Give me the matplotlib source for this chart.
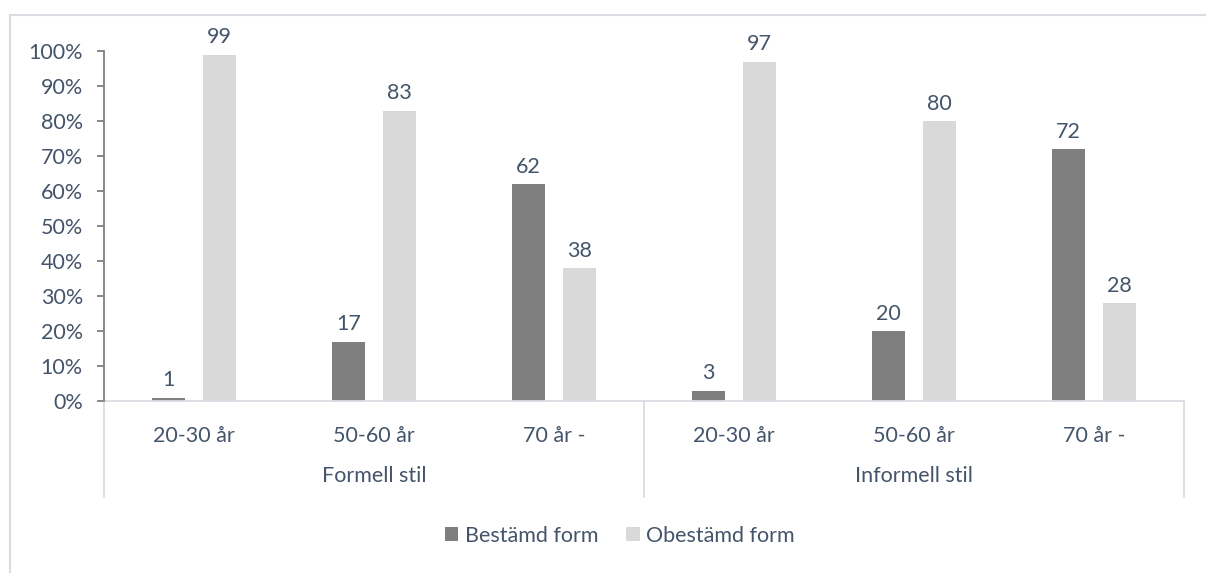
import matplotlib
matplotlib.use("Agg")
import matplotlib.pyplot as plt
from matplotlib.patches import Rectangle
from matplotlib.lines import Line2D
import matplotlib.transforms as mtransforms
import numpy as np

plt.rcParams['font.family'] = ['Lato', 'DejaVu Sans']

# Data
groups = ["Formell stil", "Informell stil"]
age_labels = ["20-30 år", "50-60 år", "70 år -"]
series_names = ["Bestämd form", "Obestämd form"]
bestamd = [1, 17, 62, 3, 20, 72]
obestamd = [99, 83, 38, 97, 80, 28]
y_ticks = [0, 10, 20, 30, 40, 50, 60, 70, 80, 90, 100]

dark = "#7f7f7f"
light = "#d9d9d9"
text_col = "#44546a"
grid_col = "#d9dde3"

W, H = 1206, 573
fig = plt.figure(figsize=(W / 100, H / 100), dpi=100)

left, right = 104 / W, 1184 / W
bottom = 1 - 401.3 / H
top = 1 - 51.3 / H
ax = fig.add_axes([left, bottom, right - left, top - bottom])

n = len(bestamd)
x = np.arange(n)
bw = 0.183
off = 0.142
ax.bar(x - off, bestamd, width=bw, color=dark, label=series_names[0], zorder=2)
ax.bar(x + off, obestamd, width=bw, color=light, label=series_names[1], zorder=2)

fs = 15.5
for xi, v in zip(x - off, bestamd):
    ax.annotate(f"{v}", (xi, v), xytext=(0, 5.5), textcoords="offset points",
                ha="center", va="bottom", color=text_col, fontsize=fs)
for xi, v in zip(x + off, obestamd):
    ax.annotate(f"{v}", (xi, v), xytext=(0, 5.5), textcoords="offset points",
                ha="center", va="bottom", color=text_col, fontsize=fs)

ax.set_xlim(-0.5, n - 0.5)
ax.set_ylim(0, 100)
ax.set_yticks(y_ticks)
ax.set_yticklabels([f"{t}%" for t in y_ticks])
ax.tick_params(axis="y", colors=dark, labelcolor=text_col, labelsize=fs,
               length=4.7, width=1.3, pad=10.5)
ax.set_xticks([])

for s in ["top", "right"]:
    ax.spines[s].set_visible(False)
ax.spines["left"].set_color(dark)
ax.spines["left"].set_linewidth(1.3)
ax.spines["bottom"].set_color(grid_col)
ax.spines["bottom"].set_linewidth(1.3)
ax.spines["left"].set_zorder(3)

# Category and group labels beneath the axis
trans = mtransforms.blended_transform_factory(ax.transData, ax.transAxes)
ax_h = 401.3 - 51.3
for i in range(n):
    ax.text(x[i], -(436 - 401.3) / ax_h, age_labels[i % 3], transform=trans,
            ha="center", va="center", color=text_col, fontsize=fs)
for g, name in enumerate(groups):
    ax.text(3 * g + 1, -(476 - 401.3) / ax_h, name, transform=trans,
            ha="center", va="center", color=text_col, fontsize=fs)

sep_bottom = -(496.7 - 401.3) / ax_h
for xs in [-0.5, 2.5, 5.5]:
    ax.add_line(Line2D([xs, xs], [0, sep_bottom], transform=trans,
                       color=grid_col, lw=1.3, clip_on=False, zorder=1))

# Outer chart frame
fig.add_artist(Rectangle((10 / W, -0.1), 1.2, 1 - 15 / H + 0.1,
                         transform=fig.transFigure, fill=False,
                         edgecolor=grid_col, lw=1.5))

leg = fig.legend(loc="center", bbox_to_anchor=(620 / W, 1 - 536 / H),
                 ncol=2, frameon=False, fontsize=fs, labelcolor=text_col,
                 handlelength=0.62, handleheight=0.62, handletextpad=0.3,
                 columnspacing=1.3)

fig.savefig("out.png", dpi=100)
